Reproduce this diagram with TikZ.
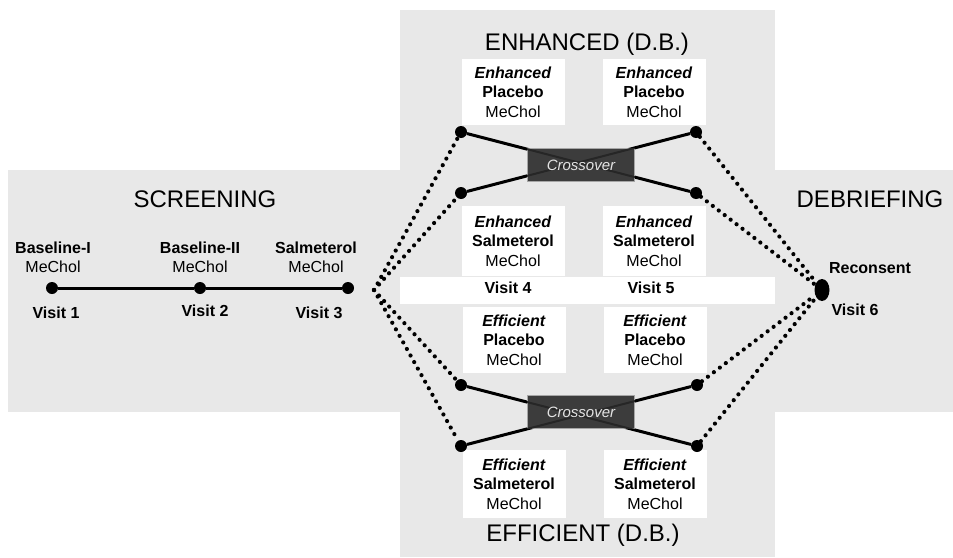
\documentclass[tikz,border=0pt]{standalone}
\usepackage{fontspec}
\setmainfont{Liberation Sans}
\usetikzlibrary{shapes.geometric}
\definecolor{bggray}{HTML}{E8E8E8}
\definecolor{xdark}{HTML}{3C3C3C}
\definecolor{xtext}{HTML}{E4E4E4}
\begin{document}
\begin{tikzpicture}[x=1pt,y=-1pt,
  title/.style={font=\fontsize{24}{28}\selectfont, inner sep=0pt},
  lab/.style={font=\fontsize{16}{19.5}\selectfont, inner sep=0pt, align=center},
  blab/.style={font=\bfseries\fontsize{16}{19.5}\selectfont, inner sep=0pt},
  wbox/.style={fill=white, minimum width=103pt, inner sep=0pt, align=center, font=\fontsize{16}{19.5}\selectfont},
  dot/.style={circle, fill=black, minimum size=12pt, inner sep=0pt},
  solidline/.style={line width=3pt},
  dotline/.style={line width=4.2pt, line cap=round, dash pattern=on 0pt off 7.5pt},
  xbox/.style={fill=xdark, draw=gray!70, line width=0.6pt, minimum width=107pt, minimum height=33pt, inner sep=0pt},
  xlab/.style={inner sep=0pt, text=xtext, font=\itshape\fontsize{15}{17}\selectfont}
]
\useasboundingbox (0,0) rectangle (953,557);
% backgrounds
\fill[bggray] (8,170) rectangle (400,412);
\fill[bggray] (400,10) rectangle (775,557);
\fill[bggray] (775,170) rectangle (953,412);
\fill[white] (400,277) rectangle (775,304);

% titles
\node[title] (tscr) at (205,199) {SCREENING};
\node[title] (tenh) at (587,44) {ENHANCED (D.B.)};
\node[title] (teff) at (583,535) {EFFICIENT (D.B.)};
\node[title] (tdeb) at (870,199) {DEBRIEFING};

% screening timeline
\node[dot] (v1) at (52,288) {};
\node[dot] (v2) at (200,288) {};
\node[dot] (v3) at (348,288) {};
\draw[solidline] (v1) -- (v2) -- (v3);
\node[blab] (b1) at (53,248) {Baseline-I};
\node[lab] (m1) at (53,267) {MeChol};
\node[blab] (vl1) at (56,313) {Visit 1};
\node[blab] (b2) at (200,248) {Baseline-II};
\node[lab] (m2) at (200,267) {MeChol};
\node[blab] (vl2) at (205,311) {Visit 2};
\node[blab] (b3) at (316,248) {Salmeterol};
\node[lab] (m3) at (316,267) {MeChol};
\node[blab] (vl3) at (319,313) {Visit 3};

% white boxes
\node[wbox, minimum height=66pt] (e1) at (513,92) {\textbf{\textit{Enhanced}}\\\textbf{Placebo}\\MeChol};
\node[wbox, minimum height=66pt] (e2) at (654,92) {\textbf{\textit{Enhanced}}\\\textbf{Placebo}\\MeChol};
\node[wbox, minimum height=70pt] (e3) at (513,241) {\textbf{\textit{Enhanced}}\\\textbf{Salmeterol}\\MeChol};
\node[wbox, minimum height=70pt] (e4) at (654,241) {\textbf{\textit{Enhanced}}\\\textbf{Salmeterol}\\MeChol};
\node[wbox, minimum height=66pt] (f1) at (514,340) {\textbf{\textit{Efficient}}\\\textbf{Placebo}\\MeChol};
\node[wbox, minimum height=66pt] (f2) at (655,340) {\textbf{\textit{Efficient}}\\\textbf{Placebo}\\MeChol};
\node[wbox, minimum height=68pt] (f3) at (514,484) {\textbf{\textit{Efficient}}\\\textbf{Salmeterol}\\MeChol};
\node[wbox, minimum height=68pt] (f4) at (655,484) {\textbf{\textit{Efficient}}\\\textbf{Salmeterol}\\MeChol};

\node[blab] (vl4) at (508,288) {Visit 4};
\node[blab] (vl5) at (651,288) {Visit 5};

% crossover dots
\node[dot] (a1) at (461,132) {};
\node[dot] (a2) at (461,193) {};
\node[dot] (a3) at (696,132) {};
\node[dot] (a4) at (696,193) {};
\node[dot] (c1) at (461,385) {};
\node[dot] (c2) at (461,446) {};
\node[dot] (c3) at (697,385) {};
\node[dot] (c4) at (697,446) {};
\draw[solidline] (a1) -- (a4);
\draw[solidline] (a2) -- (a3);
\draw[solidline] (c1) -- (c4);
\draw[solidline] (c2) -- (c3);

% crossover boxes
\node[xbox] (x1) at (581,165) {};
\begin{scope}
  \clip (x1.north west) rectangle (x1.south east);
  \draw[line width=2pt, black!85] (a1) -- (a4);
  \draw[line width=2pt, black!85] (a2) -- (a3);
\end{scope}
\node[xlab] (x1t) at (x1.center) {Crossover};
\node[xbox] (x2) at (581,412) {};
\begin{scope}
  \clip (x2.north west) rectangle (x2.south east);
  \draw[line width=2pt, black!85] (c1) -- (c4);
  \draw[line width=2pt, black!85] (c2) -- (c3);
\end{scope}
\node[xlab] (x2t) at (x2.center) {Crossover};

% visit 6
\node[ellipse, fill=black, minimum width=15pt, minimum height=22pt, inner sep=0pt] (v6) at (822,290) {};
\node[blab] (rc) at (870,268) {Reconsent};
\node[blab] (vl6) at (855,310) {Visit 6};

% dotted connectors
\coordinate (conv) at (374,290);
\draw[dotline] (conv) -- (a1);
\draw[dotline] (conv) -- (a2);
\draw[dotline] (conv) -- (c1);
\draw[dotline] (conv) -- (c2);
\draw[dotline] (a3) -- (v6);
\draw[dotline] (a4) -- (v6);
\draw[dotline] (c3) -- (v6);
\draw[dotline] (c4) -- (v6);
\end{tikzpicture}
\end{document}
